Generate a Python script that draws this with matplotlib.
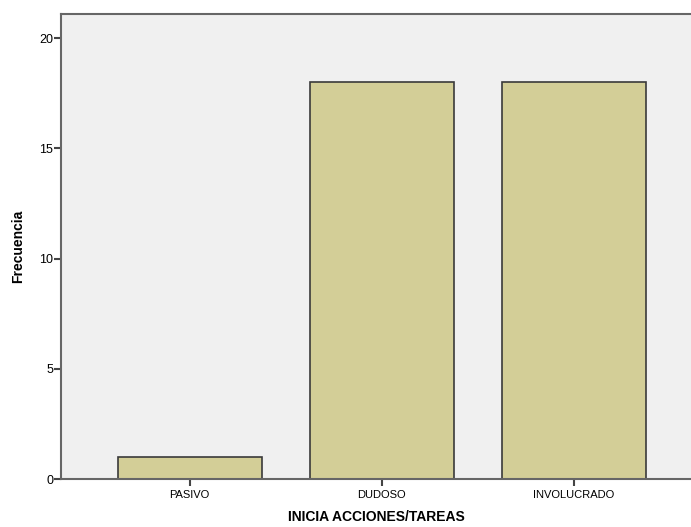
import matplotlib.pyplot as plt

# Datos
categorias = ['PASIVO', 'DUDOSO', 'INVOLUCRADO']
frecuencias = [1, 18, 18]

plt.rcParams['font.family'] = ['Liberation Sans', 'DejaVu Sans']

fig = plt.figure(figsize=(6.91, 5.27), dpi=100)
ax = fig.add_axes([0.089, 0.091, 0.911, 0.8824])
ax.set_facecolor('#F0F0F0')

x = list(range(len(categorias)))
ax.bar(x, frecuencias, width=0.75, color='#D3CE97', edgecolor='#3a3a3a', linewidth=1.2, zorder=2)

ax.set_xlim(-0.667, 2.609)
ax.set_ylim(0, 21.09)
ax.set_xticks(x)
ax.set_xticklabels(categorias, fontsize=8)
ax.set_yticks([0, 5, 10, 15, 20])
ax.tick_params(axis='y', labelsize=9, length=5, width=1.5, color='#444444', pad=1)
ax.tick_params(axis='x', length=5, width=1.5, color='#444444', pad=3)

for lado in ['left', 'bottom', 'top']:
    ax.spines[lado].set_color('#666666')
    ax.spines[lado].set_linewidth(1.5)
ax.spines['right'].set_visible(False)

ax.set_ylabel('Frecuencia', fontsize=10, fontweight='bold', labelpad=10)
ax.set_xlabel('INICIA ACCIONES/TAREAS', fontsize=10, fontweight='bold', labelpad=7)

fig.savefig('out.png', dpi=100)
